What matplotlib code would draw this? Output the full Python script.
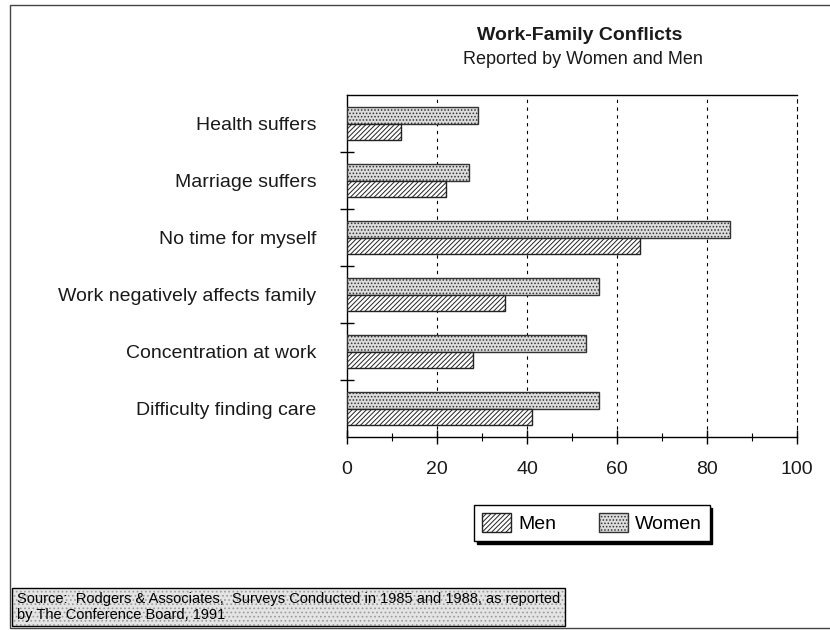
import numpy as np
import matplotlib
matplotlib.use("Agg")
import matplotlib.pyplot as plt
from matplotlib.patches import Rectangle
from matplotlib.ticker import MultipleLocator

plt.rcParams['font.family'] = ['Liberation Sans', 'DejaVu Sans']
plt.rcParams['hatch.linewidth'] = 0.7

# data (percent)
categories = ["Health suffers", "Marriage suffers", "No time for myself",
              "Work negatively affects family", "Concentration at work",
              "Difficulty finding care"]
women = [29, 27, 85, 56, 53, 56]
men = [12, 22, 65, 35, 28, 41]
x_ticks = [0, 20, 40, 60, 80, 100]

W, H = 830, 630
fig = plt.figure(figsize=(8.3, 6.3), dpi=100)
ax = fig.add_axes([347 / W, 1 - 437 / H, 450 / W, 342 / H])

y = np.arange(len(categories))
h = 0.29
ax.barh(y - h / 2, women, height=h, color='#dcdcdc', edgecolor='#333333',
        hatch='.....', linewidth=1.0, label='Women', zorder=3)
ax.barh(y + h / 2, men, height=h, color='white', edgecolor='#222222',
        hatch='///////', linewidth=1.0, label='Men', zorder=3)

ax.set_xlim(0, 100)
ax.set_ylim(len(categories) - 0.5, -0.5)

# category labels at the centre, ticks on the boundaries
ax.set_yticks(y)
ax.set_yticklabels(categories, fontsize=14, color='#1a1a1a')
ax.tick_params(axis='y', which='major', length=0, pad=22)
ax.set_yticks(np.arange(len(categories) - 1) + 0.5, minor=True)
ax.tick_params(axis='y', which='minor', direction='inout', length=10, width=1)

ax.set_xticks(x_ticks)
ax.set_xticklabels([str(v) for v in x_ticks], fontsize=14, color='#1a1a1a')
ax.xaxis.set_minor_locator(MultipleLocator(10))
ax.tick_params(axis='x', which='major', direction='inout', length=10, width=1, pad=12)
ax.tick_params(axis='x', which='minor', direction='inout', length=6, width=0.8)

for gx in [20, 40, 60, 80]:
    ax.axvline(gx, color='black', linestyle=(0, (3, 4)), linewidth=0.8, zorder=1)

ax.spines['right'].set_linestyle((0, (3, 4)))
ax.spines['right'].set_linewidth(0.8)
for s in ['left', 'bottom', 'top']:
    ax.spines[s].set_linewidth(1.0)

# titles
fig.text(580 / W, 1 - 35 / H, "Work-Family Conflicts", ha='center', va='center',
         fontsize=14, fontweight='bold', color='#1a1a1a')
fig.text(583 / W, 1 - 60 / H, "Reported by Women and Men", ha='center', va='center',
         fontsize=13, color='#1a1a1a')

# legend: Men first, then Women
handles, labels = ax.get_legend_handles_labels()
leg = fig.legend(handles[::-1], labels[::-1], loc='center',
                 bbox_to_anchor=(592 / W, 1 - 523 / H), ncol=2, fontsize=14,
                 frameon=True, fancybox=False, edgecolor='black',
                 handlelength=1.5, handleheight=1.1, handletextpad=0.35,
                 columnspacing=2.2, borderpad=0.4,
                 shadow={'color': 'black', 'alpha': 1})
leg.get_frame().set_linewidth(1.0)

# outer frame
fig.patches.append(Rectangle((10 / W, 1 - 628 / H), 830 / W, 623 / H,
                             transform=fig.transFigure, fill=False,
                             edgecolor='#444444', linewidth=1.0))

# source box
fig.patches.append(Rectangle((12 / W, 1 - 626 / H), 553 / W, 38 / H,
                             transform=fig.transFigure, facecolor='#e4e4e4',
                             edgecolor='#9a9a9a', hatch='....', linewidth=0))
fig.patches.append(Rectangle((12 / W, 1 - 626 / H), 553 / W, 38 / H,
                             transform=fig.transFigure, fill=False,
                             edgecolor='black', linewidth=1.0))
fig.text(17 / W, 1 - 607 / H,
         "Source:  Rodgers & Associates,  Surveys Conducted in 1985 and 1988, as reported\n"
         "by The Conference Board, 1991",
         ha='left', va='center', fontsize=10.5, linespacing=1.15)

fig.savefig("out.png", dpi=100)
